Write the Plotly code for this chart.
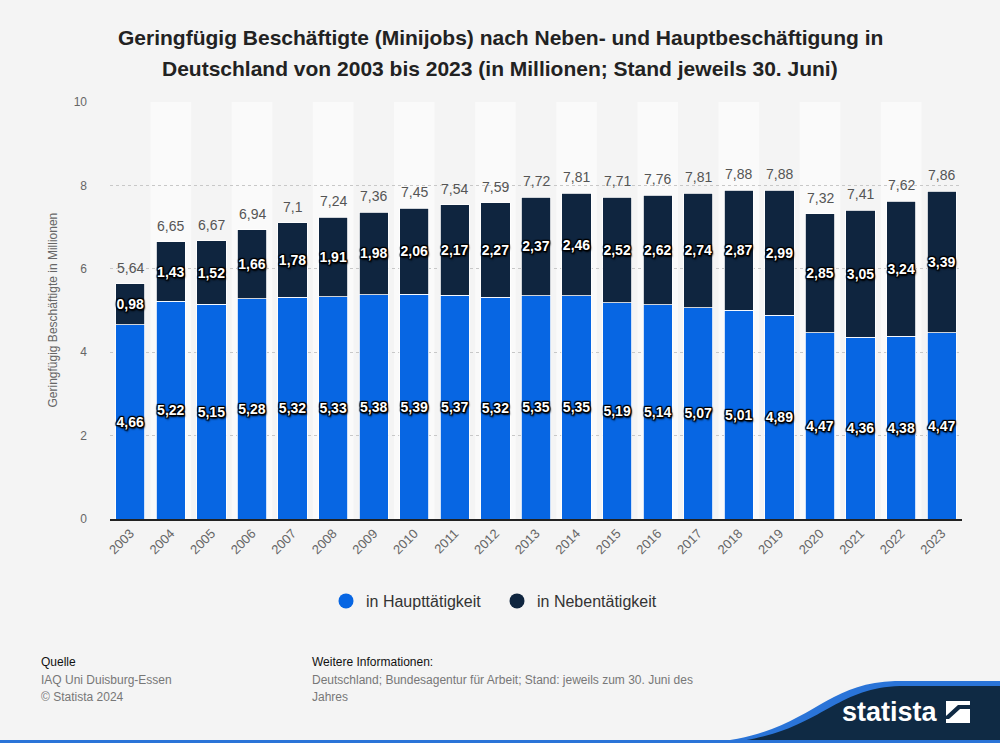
import plotly.graph_objects as go

years = [str(y) for y in range(2003, 2024)]
haupt = [4.66, 5.22, 5.15, 5.28, 5.32, 5.33, 5.38, 5.39, 5.37, 5.32, 5.35, 5.35,
         5.19, 5.14, 5.07, 5.01, 4.89, 4.47, 4.36, 4.38, 4.47]
neben = [0.98, 1.43, 1.52, 1.66, 1.78, 1.91, 1.98, 2.06, 2.17, 2.27, 2.37, 2.46,
         2.52, 2.62, 2.74, 2.87, 2.99, 2.85, 3.05, 3.24, 3.39]
totals = [5.64, 6.65, 6.67, 6.94, 7.1, 7.24, 7.36, 7.45, 7.54, 7.59, 7.72, 7.81,
          7.71, 7.76, 7.81, 7.88, 7.88, 7.32, 7.41, 7.62, 7.86]

title_lines = ["Geringfügig Beschäftigte (Minijobs) nach Neben- und Hauptbeschäftigung in",
               "Deutschland von 2003 bis 2023 (in Millionen; Stand jeweils 30. Juni)"]

W, H = 1000, 743
L, R, T, B = 110, 962, 102, 519
FONT = "Liberation Sans, Arial, sans-serif"
BLUE = "#0766e3"
NAVY = "#0f253f"


def fmt(v):
    s = ("%.2f" % v).rstrip("0").rstrip(".")
    return s.replace(".", ",")


def px(x):
    return (x - L) / (R - L)


def py(y):
    return (B - y) / (B - T)


shadow = ("1px 1px 1px #000, -1px -1px 1px #000, 1px -1px 1px #000, -1px 1px 1px #000, "
          "0 1px 1px #000, 0 -1px 1px #000, 1px 0 1px #000, -1px 0 1px #000, 1px 2px 2px #000")
inner_font = dict(family=FONT, size=14, color="white", weight="bold", shadow=shadow)

fig = go.Figure()
fig.add_trace(go.Bar(
    x=years, y=haupt, name="in Haupttätigkeit", marker=dict(color=BLUE, line=dict(color="white", width=0.8)),
    text=[fmt(v) for v in haupt], textposition="inside", insidetextanchor="middle",
    textangle=0, constraintext="none", textfont=inner_font, showlegend=False,
    hoverinfo="skip"))
fig.add_trace(go.Bar(
    x=years, y=neben, name="in Nebentätigkeit", marker=dict(color=NAVY, line=dict(color="white", width=0.8)),
    text=[fmt(v) for v in neben], textposition="inside", insidetextanchor="middle",
    textangle=0, constraintext="none", textfont=inner_font, showlegend=False,
    hoverinfo="skip"))
# legend entries with circle symbols
fig.add_trace(go.Scatter(x=[None], y=[None], mode="markers", name="in Haupttätigkeit",
                         marker=dict(color=BLUE, size=15, symbol="circle")))
fig.add_trace(go.Scatter(x=[None], y=[None], mode="markers", name="in Nebentätigkeit",
                         marker=dict(color=NAVY, size=15, symbol="circle")))

shapes = []
for i, yr in enumerate(years):
    if i % 2 == 1:
        shapes.append(dict(type="rect", xref="x", yref="paper", x0=i - 0.5, x1=i + 0.5,
                           y0=0, y1=1, fillcolor="#fafafa", line=dict(width=0), layer="below"))


def path(points):
    return "M " + " L ".join("%.4f,%.4f" % (px(x), py(y)) for x, y in points) + " Z"


# Statista logo banner (decorative)
blue_band = "M %.4f,%.4f C %.4f,%.4f %.4f,%.4f %.4f,%.4f L %.4f,%.4f L %.4f,%.4f Z" % (
    px(705), py(743), px(810), py(735), px(820), py(683), px(895), py(681),
    px(1000), py(681), px(1000), py(743))
navy_band = "M %.4f,%.4f C %.4f,%.4f %.4f,%.4f %.4f,%.4f L %.4f,%.4f L %.4f,%.4f Z" % (
    px(722), py(743), px(820), py(735), px(830), py(688), px(900), py(686),
    px(1000), py(686), px(1000), py(743))
shapes.append(dict(type="path", xref="paper", yref="paper", path=blue_band,
                   fillcolor="#2a74d8", line=dict(width=0), layer="above"))
shapes.append(dict(type="path", xref="paper", yref="paper", path=navy_band,
                   fillcolor="#0f2a44", line=dict(width=0), layer="above"))
shapes.append(dict(type="rect", xref="paper", yref="paper", x0=px(0), x1=px(1000),
                   y0=py(743), y1=py(740), fillcolor="#2a74d8", line=dict(width=0)))
# logo icon
shapes.append(dict(type="rect", xref="paper", yref="paper", x0=px(946), x1=px(970),
                   y0=py(723), y1=py(701), fillcolor="white", line=dict(width=0)))
shapes.append(dict(type="path", xref="paper", yref="paper",
                   path=path([(946, 716), (958, 705), (970, 705), (970, 709), (960, 709), (949, 719), (946, 719)]),
                   fillcolor="#0f2a44", line=dict(width=0)))

annotations = [
    dict(text="<b>%s</b>" % title_lines[0], xref="paper", yref="paper", x=px(500), y=py(37),
         xanchor="center", yanchor="middle", showarrow=False,
         font=dict(family=FONT, size=21, color="#222")),
    dict(text="<b>%s</b>" % title_lines[1], xref="paper", yref="paper", x=px(500), y=py(68),
         xanchor="center", yanchor="middle", showarrow=False,
         font=dict(family=FONT, size=21, color="#222")),
    dict(text="Geringfügig Beschäftigte in Millionen", xref="paper", yref="paper",
         x=px(52), y=0.5, textangle=-90, showarrow=False,
         font=dict(family=FONT, size=12, color="#666"), xanchor="center", yanchor="middle"),
    dict(text="Quelle", xref="paper", yref="paper", x=px(39), y=py(662), xanchor="left",
         yanchor="middle", showarrow=False, font=dict(family=FONT, size=12, color="#111")),
    dict(text="IAQ Uni Duisburg-Essen", xref="paper", yref="paper", x=px(39), y=py(680),
         xanchor="left", yanchor="middle", showarrow=False, font=dict(family=FONT, size=12, color="#777")),
    dict(text="© Statista 2024", xref="paper", yref="paper", x=px(39), y=py(697),
         xanchor="left", yanchor="middle", showarrow=False, font=dict(family=FONT, size=12, color="#777")),
    dict(text="Weitere Informationen:", xref="paper", yref="paper", x=px(310), y=py(662),
         xanchor="left", yanchor="middle", showarrow=False, font=dict(family=FONT, size=12, color="#111")),
    dict(text="Deutschland; Bundesagentur für Arbeit; Stand: jeweils zum 30. Juni des",
         xref="paper", yref="paper", x=px(310), y=py(680), xanchor="left", yanchor="middle",
         showarrow=False, font=dict(family=FONT, size=12, color="#777")),
    dict(text="Jahres", xref="paper", yref="paper", x=px(310), y=py(697), xanchor="left",
         yanchor="middle", showarrow=False, font=dict(family=FONT, size=12, color="#777")),
    dict(text="statista", xref="paper", yref="paper", x=px(940), y=py(712), xanchor="right",
         yanchor="middle", showarrow=False,
         font=dict(family=FONT, size=27, color="white", weight="bold")),
]
# total labels above the stacks (category index positions)
for i, tot in enumerate(totals):
    annotations.append(dict(text=fmt(tot), x=i, y=tot, xref="x", yref="y", showarrow=False,
                            xanchor="center", yanchor="bottom", yshift=6,
                            font=dict(family=FONT, size=14, color="#555")))

fig.update_layout(
    width=W, height=H,
    margin=dict(l=L, r=W - R, t=T, b=H - B, autoexpand=False),
    paper_bgcolor="#f4f4f4", plot_bgcolor="#f4f4f4",
    barmode="stack", bargap=0.28,
    separators=",.",
    font=dict(family=FONT, color="#666"),
    xaxis=dict(type="category", tickangle=-45, tickfont=dict(family=FONT, size=13, color="#666"),
               showgrid=False, showline=True, linecolor="#222", linewidth=1.5,
               range=[-0.5, len(years) - 0.5], ticks="", fixedrange=True),
    yaxis=dict(range=[0, 10], dtick=2, showgrid=True, gridcolor="#c8c8c8", griddash="dot",
               gridwidth=1, zeroline=False, tickfont=dict(family=FONT, size=12, color="#666"),
               ticklabelstandoff=22, showline=False, fixedrange=True),
    legend=dict(orientation="h", x=px(326), xanchor="left", y=py(601), yanchor="middle",
                font=dict(family=FONT, size=16, color="#333"), bgcolor="rgba(0,0,0,0)",
                itemsizing="trace", traceorder="normal", entrywidth=126, entrywidthmode="pixels"),
    shapes=shapes,
    annotations=annotations,
)

fig.write_html("out.html", config={"displayModeBar": False},
               post_script="document.body.style.margin='0';document.body.style.overflow='hidden';")
